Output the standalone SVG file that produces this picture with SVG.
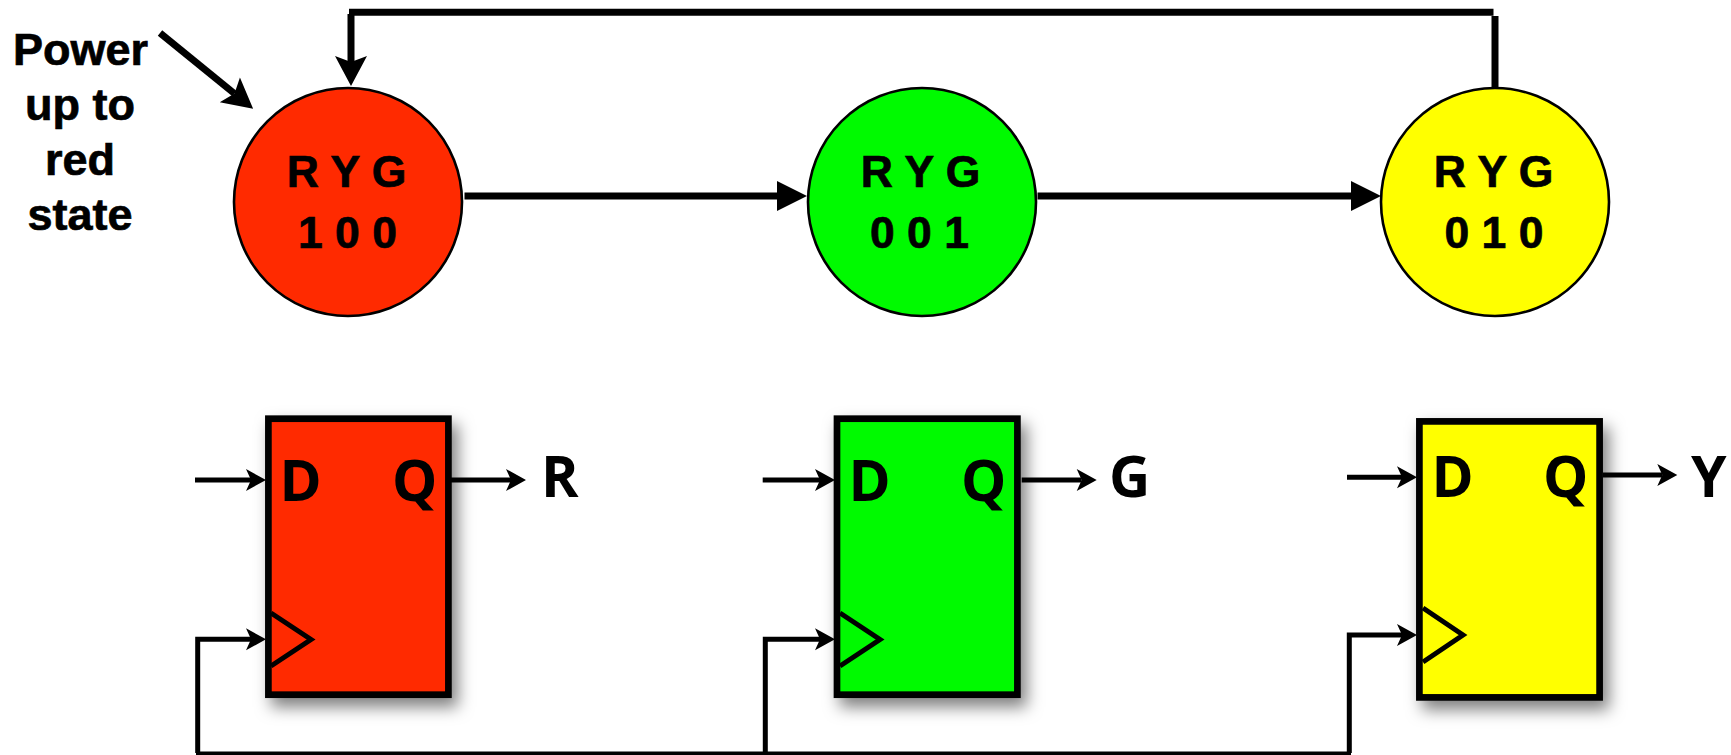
<svg xmlns="http://www.w3.org/2000/svg" width="1731" height="755" viewBox="0 0 1731 755">
<style>
.bg{fill:#fff}
.st{stroke:#000;stroke-width:2.6}
.rt{font:700 44.500px "Liberation Sans",Arial,sans-serif;fill:#000;stroke:#000;stroke-width:.7;text-anchor:middle}
.pw{font:700 45px "Liberation Sans",Arial,sans-serif;fill:#000;stroke:#000;stroke-width:.7;text-anchor:middle}
.ff{stroke:#000;stroke-width:6.7;filter:url(#sh)}
.ck{fill:none;stroke:#000;stroke-width:5}
.pin{font:700 57px "Open Sans","Noto Sans",sans-serif;fill:#000}
.th{fill:none;stroke:#000;stroke-width:7;marker-end:url(#sw)}
.hz{fill:none;stroke:#000;stroke-width:7;marker-end:url(#so)}
.pl{fill:none;stroke:#000;stroke-width:7}
.wi{fill:none;stroke:#000;stroke-width:5;marker-end:url(#sm)}
.bus{fill:none;stroke:#000;stroke-width:3.5}
.r{fill:#ff2a00}.g{fill:#00fa00}.y{fill:#ffff00}
</style>
<defs>
<filter id="sh" x="-20%" y="-20%" width="150%" height="140%"><feDropShadow dx="6" dy="9" stdDeviation="8" flood-color="#000" flood-opacity="0.5"/></filter>
<marker id="sw" markerUnits="userSpaceOnUse" markerWidth="50" markerHeight="50" refX="0" refY="0" orient="auto" overflow="visible"><polygon points="-6,-16 24,0 -6,16 0,0" fill="#000"/></marker>
<marker id="so" markerUnits="userSpaceOnUse" markerWidth="50" markerHeight="50" refX="0" refY="0" orient="auto" overflow="visible"><polygon points="-1,-15 29,0 -1,15" fill="#000"/></marker>
<marker id="sm" markerUnits="userSpaceOnUse" markerWidth="40" markerHeight="40" refX="0" refY="0" orient="auto" overflow="visible"><polygon points="-5,-11 15,0 -5,11 0,0" fill="#000"/></marker>
</defs>
<rect class="bg" width="1731" height="755"/>
<g id="state-red"><circle class="r st" cx="348" cy="202" r="114"/><text class="rt" x="346.500" y="187">R Y G</text><text class="rt" x="347.500" y="248">1 0 0</text></g>
<g id="state-green"><circle class="g st" cx="922" cy="202" r="114"/><text class="rt" x="920.500" y="187">R Y G</text><text class="rt" x="919.500" y="248">0 0 1</text></g>
<g id="state-yellow"><circle class="y st" cx="1495" cy="202" r="114"/><text class="rt" x="1493.500" y="187">R Y G</text><text class="rt" x="1494" y="248">0 1 0</text></g>
<g id="power-label"><text class="pw" x="80.500" y="65">Power</text><text class="pw" x="80" y="120">up to</text><text class="pw" x="80" y="175">red</text><text class="pw" x="80" y="230">state</text></g>
<g id="ff-red">
<rect class="ff r" x="268.4" y="418.7" width="180" height="276"/>
<polyline class="ck" points="271,613 311,639.5 271,666"/>
<text class="pin" x="279.500" y="501">D</text><text class="pin" x="392" y="501">Q</text>
<text class="pin" x="541" y="497">R</text>
</g>
<g id="ff-green">
<rect class="ff g" x="837" y="418.7" width="180.4" height="276"/>
<polyline class="ck" points="840,613 880,639.5 840,666"/>
<text class="pin" x="848.500" y="501">D</text><text class="pin" x="961" y="501">Q</text>
<text class="pin" x="1109" y="497">G</text>
</g>
<g id="ff-yellow">
<rect class="ff y" x="1419.4" y="421.4" width="180.2" height="276"/>
<polyline class="ck" points="1423,608 1463,635 1423,662"/>
<text class="pin" x="1431.500" y="497">D</text><text class="pin" x="1543" y="497">Q</text>
<text class="pin" x="1691" y="497">Y</text>
</g>
<g id="connectors">
<path class="pl" d="M1495 88V16"/>
<path class="pl" d="M1493.500 12.300H349"/>
<path class="th" d="M351 14V62"/>
<path class="th" d="M160 33L234.500 93.600"/>
<path class="hz" d="M464.500 196H778"/>
<path class="hz" d="M1037.500 196H1352"/>
<path class="wi" d="M195 480H251"/>
<path class="wi" d="M451 480H511"/>
<path class="wi" d="M762.700 480H820"/>
<path class="wi" d="M1021.700 480H1081.700"/>
<path class="wi" d="M1347 477.300H1402"/>
<path class="wi" d="M1603 475H1662.300"/>
<path class="wi" d="M197.700 753V639.300H251"/>
<path class="wi" d="M765.300 753V639.300H820"/>
<path class="wi" d="M1349.300 753V635H1402"/>
<path class="bus" d="M196 753.300H1351"/>
</g>
</svg>
